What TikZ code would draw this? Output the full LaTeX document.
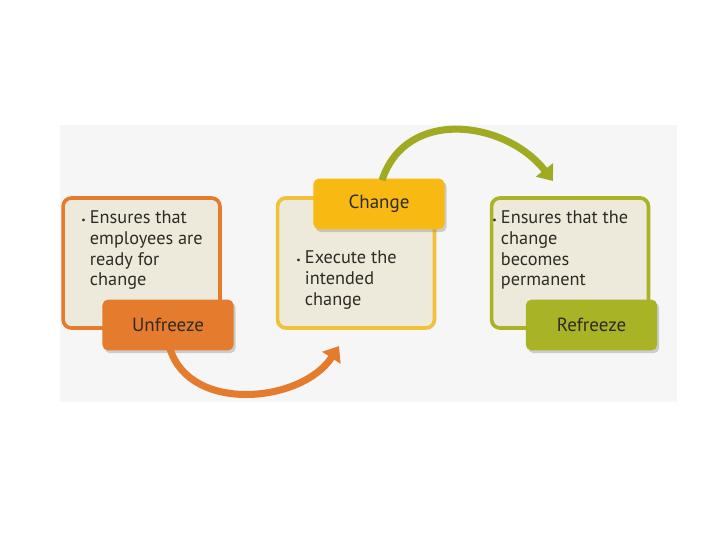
\documentclass[tikz,border=0pt]{standalone}
\usepackage{fontspec}
\setmainfont{PT Sans}
\usetikzlibrary{arrows.meta,shadows}

\definecolor{bandgray}{HTML}{F6F6F6}
\definecolor{boxfill}{HTML}{EEEADB}
\definecolor{textgray}{HTML}{2E2B26}
\definecolor{unfreezeorange}{HTML}{E57B2C}
\definecolor{changeyellow}{HTML}{F8BA12}
\definecolor{changeborder}{HTML}{EFC23A}
\definecolor{refreezegreen}{HTML}{A8B425}

\begin{document}
\begin{tikzpicture}[x=0.025cm, y=-0.025cm,
    stagebox/.style={draw, line width=2.6pt, rounded corners=6pt, fill=boxfill,
        minimum width=3.92cm, minimum height=3.25cm},
    stagelabel/.style={rounded corners=4pt, minimum width=3.28cm, minimum height=1.27cm,
        text=textgray, font=\fontsize{13.5}{16}\selectfont,
        drop shadow={opacity=0.35, shadow xshift=1.5pt, shadow yshift=-2pt}},
    bullettext/.style={anchor=north west, inner sep=0pt, text=textgray, font=\fontsize{13}{14.7}\selectfont},
    bendarrow/.style={line width=5pt, -{Triangle[width=15pt, length=10pt]}}]

    % Page and light band
    \useasboundingbox (0,0) rectangle (720,540);
    \fill[bandgray] (60,125) rectangle (677,402);

    % Boxes
    \node[stagebox, draw=unfreezeorange] (unfreezeBox) at (141.5,263) {};
    \node[stagebox, draw=changeborder] (changeBox) at (356,263) {};
    \node[stagebox, draw=refreezegreen] (refreezeBox) at (570,263) {};

    % Bullet texts
    \node[bullettext] (unfreezeText) at (81,209) {\begin{tabular}{@{}l@{\hspace{3pt}}l@{}}
        {\scriptsize\textbullet} & Ensures that\\ & employees are\\ & ready for\\ & change\end{tabular}};
    \node[bullettext] (changeText) at (296,249) {\begin{tabular}{@{}l@{\hspace{3pt}}l@{}}
        {\scriptsize\textbullet} & Execute the\\ & intended\\ & change\end{tabular}};
    \node[bullettext] (refreezeText) at (492,209) {\begin{tabular}{@{}l@{\hspace{3pt}}l@{}}
        {\scriptsize\textbullet} & Ensures that the\\ & change\\ & becomes\\ & permanent\end{tabular}};

    % Labels
    \node[stagelabel, fill=unfreezeorange] (unfreeze) at (168,325) {Unfreeze};
    \node[stagelabel, fill=changeyellow] (change) at (379,204) {Change};
    \node[stagelabel, fill=refreezegreen] (refreeze) at (591.5,325) {Refreeze};

    % Arrows
    \coordinate (changeIn) at (339,346);
    \coordinate (refreezeIn) at (553,181);
    \draw[bendarrow, unfreezeorange] (unfreeze.south) ++(2,-2) .. controls +(20,65) and +(-37,57) .. (changeIn);
    \draw[bendarrow, refreezegreen!95!black] (change.north) ++(3,2) to[out=72, in=128, looseness=1.15] (refreezeIn);
\end{tikzpicture}
\end{document}
